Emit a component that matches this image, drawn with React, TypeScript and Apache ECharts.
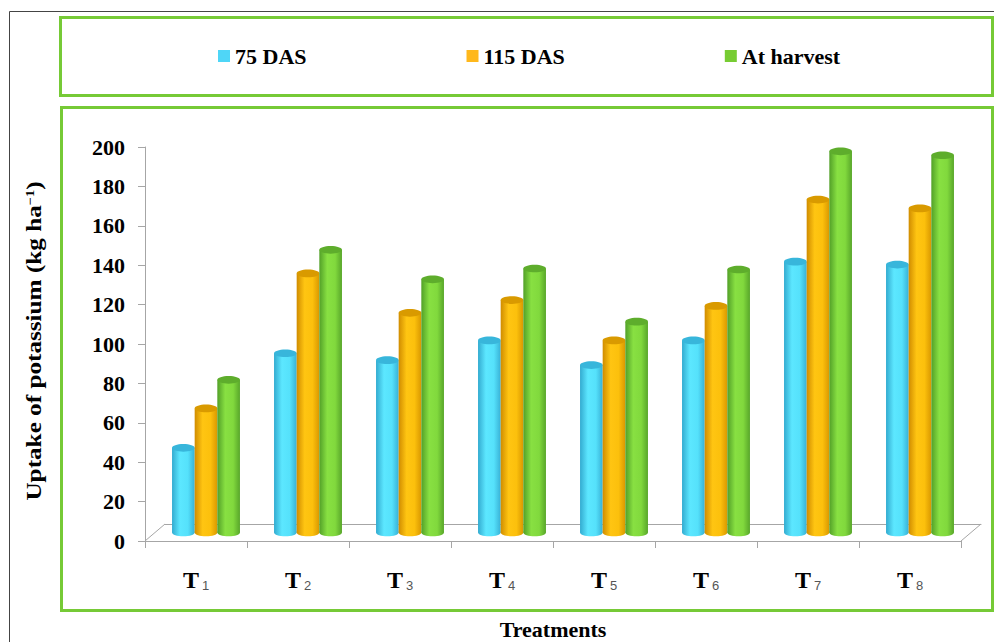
import React, { useEffect, useRef } from 'react';
import * as echarts from 'echarts';

// ---- data ----
const categories = ['T1', 'T2', 'T3', 'T4', 'T5', 'T6', 'T7', 'T8'];
const seriesNames = ['75 DAS', '115 DAS', 'At harvest'];
const das75 = [43, 91, 87.5, 97.5, 85, 97.5, 137.5, 136];
const das115 = [63, 131.5, 111.5, 118, 97.5, 115, 169, 164.5];
const atHarvest = [77.5, 143.5, 128.5, 134, 107, 133.5, 193.5, 191.5];
const yMin = 0;
const yMax = 200;
const yInterval = 20;

const legendColors = ['#4FD6F7', '#FFB81C', '#77CC33'];
const sideStops = [
  ['#33ABD0', '#5CE7FF', '#55E1FB', '#38B1D6'],
  ['#D08C00', '#FFC512', '#FCC00C', '#D99800'],
  ['#52A028', '#88E042', '#81D93D', '#58A62A'],
];
const topColors = ['#38B6DB', '#D99A00', '#5EAD2C'];

// ---- layout ----
const W = 994;
const H = 642;
const GL = 145; // front grid left
const GT = 147; // front grid top
const GW = 816;
const GH = 394;
const DX = 10; // depth step x
const DY = 8.5; // depth step y
const GREEN = '#76CA36';
const SERIF = 'Liberation Serif';

export default function App() {
  const ref = useRef<HTMLDivElement>(null);
  useEffect(() => {
    if (!ref.current) return;
    const chart = echarts.init(ref.current, undefined, { renderer: 'svg' });
    const values = [das75, das115, atHarvest];

    const makeRender = (s: number) => (params: any, api: any) => {
      const idx = api.value(0);
      const val = api.value(1);
      const base = api.coord([idx, 0]);
      const top = api.coord([idx, val]);
      const band = api.size([1, 0])[0];
      const w = band * 0.222;
      const cx = base[0] + (s - 1) * w;
      const x = cx - w / 2;
      const ry = w * 0.17;
      const st = sideStops[s];
      const grad = new echarts.graphic.LinearGradient(0, 0, 1, 0, [
        { offset: 0, color: st[0] },
        { offset: 0.35, color: st[1] },
        { offset: 0.7, color: st[2] },
        { offset: 1, color: st[3] },
      ]);
      return {
        type: 'group',
        children: [
          { type: 'ellipse', shape: { cx, cy: base[1], rx: w / 2, ry }, style: { fill: grad } },
          { type: 'rect', shape: { x, y: top[1], width: w, height: base[1] - top[1] }, style: { fill: grad } },
          { type: 'ellipse', shape: { cx, cy: top[1], rx: w / 2, ry }, style: { fill: topColors[s] } },
        ],
      };
    };

    const option: any = {
      animation: false,
      backgroundColor: '#ffffff',
      legend: {
        left: 213,
        top: 40,
        padding: 5,
        itemGap: 160,
        itemWidth: 12,
        itemHeight: 12,
        icon: 'rect',
        data: seriesNames,
        textStyle: { fontFamily: SERIF, fontWeight: 'bold', fontSize: 22, color: '#000', lineHeight: 22 },
      },
      grid: [
        { left: GL, top: GT, width: GW, height: GH },
        { left: GL + DX, top: GT - DY, width: GW, height: GH },
        { left: GL + 2 * DX, top: GT - 2 * DY, width: GW, height: GH },
      ],
      xAxis: [
        {
          gridIndex: 0,
          type: 'category',
          data: categories,
          axisLine: { lineStyle: { color: '#A6A6A6', width: 1 } },
          axisTick: { show: true, length: 7, lineStyle: { color: '#A6A6A6' } },
          axisLabel: {
            margin: 27,
            formatter: (v: string) => `{t|${v.slice(0, 1)}}{s|${v.slice(1)}}`,
            rich: {
              t: { fontFamily: SERIF, fontWeight: 'bold', fontSize: 24, color: '#000', verticalAlign: 'bottom' },
              s: { fontFamily: 'Liberation Sans', fontSize: 13, color: '#555', verticalAlign: 'bottom', padding: [0, 0, 0, 3] },
            },
          },
        },
        { gridIndex: 1, type: 'category', data: categories, show: false },
        {
          gridIndex: 2,
          type: 'category',
          data: categories,
          axisLine: { lineStyle: { color: '#A6A6A6', width: 1 } },
          axisTick: { show: false },
          axisLabel: { show: false },
        },
      ],
      yAxis: [
        {
          gridIndex: 0,
          type: 'value',
          min: yMin,
          max: yMax,
          interval: yInterval,
          axisLine: { show: true, lineStyle: { color: '#A6A6A6' } },
          axisTick: { show: true, length: 7, lineStyle: { color: '#A6A6A6' } },
          splitLine: { show: false },
          axisLabel: { margin: 20, fontFamily: SERIF, fontWeight: 'bold', fontSize: 22, color: '#000' },
        },
        { gridIndex: 1, type: 'value', min: yMin, max: yMax, interval: yInterval, show: false, splitLine: { show: false } },
        { gridIndex: 2, type: 'value', min: yMin, max: yMax, interval: yInterval, show: false, splitLine: { show: false } },
      ],
      series: seriesNames.map((n, s) => ({
        name: n,
        type: 'custom',
        xAxisIndex: 1,
        yAxisIndex: 1,
        itemStyle: { color: legendColors[s] },
        renderItem: makeRender(s),
        encode: { x: 0, y: 1 },
        data: values[s].map((v, i) => [i, v]),
        z: 3,
      })),
      graphic: [
        {
          type: 'polyline',
          shape: { points: [[9.5, H], [9.5, 11.5], [W, 11.5]] },
          style: { stroke: '#444', lineWidth: 1, fill: 'none' },
          silent: true,
        },
        {
          type: 'rect',
          shape: { x: 60.5, y: 17.5, width: 932, height: 78 },
          style: { stroke: GREEN, lineWidth: 3, fill: 'none' },
          silent: true,
        },
        {
          type: 'rect',
          shape: { x: 61.5, y: 107.5, width: 931, height: 503 },
          style: { stroke: GREEN, lineWidth: 3, fill: 'none' },
          silent: true,
        },
        {
          type: 'line',
          shape: { x1: GL, y1: GT + GH, x2: GL + 2 * DX, y2: GT + GH - 2 * DY },
          style: { stroke: '#A6A6A6', lineWidth: 1 },
          silent: true,
        },
        {
          type: 'line',
          shape: { x1: GL + GW, y1: GT + GH, x2: GL + GW + 2 * DX, y2: GT + GH - 2 * DY },
          style: { stroke: '#A6A6A6', lineWidth: 1 },
          silent: true,
        },
        {
          type: 'text',
          x: 34,
          y: 341,
          rotation: Math.PI / 2,
          scaleX: 1.2,
          style: {
            text: '{a|Uptake of potassium (kg ha}{b|−1}{a|)}',
            align: 'center',
            verticalAlign: 'middle',
            rich: {
              a: { fontFamily: SERIF, fontWeight: 'bold', fontSize: 21, fill: '#000', verticalAlign: 'bottom' },
              b: { fontFamily: SERIF, fontWeight: 'bold', fontSize: 12, fill: '#000', verticalAlign: 'top' },
            },
          },
          silent: true,
        },
        {
          type: 'text',
          x: 553,
          y: 629,
          style: {
            text: 'Treatments',
            align: 'center',
            verticalAlign: 'middle',
            fontFamily: SERIF,
            fontWeight: 'bold',
            fontSize: 22,
            fill: '#000',
          },
          silent: true,
        },
      ],
    };
    chart.setOption(option);
    return () => chart.dispose();
  }, []);
  return <div ref={ref} style={{ position: 'fixed', left: 0, top: 0, width: W, height: H }} />;
}
